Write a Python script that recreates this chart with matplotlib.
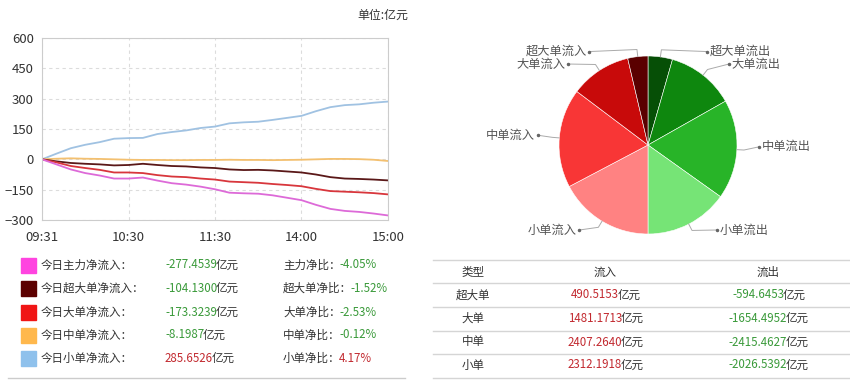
import matplotlib
matplotlib.use("Agg")
import matplotlib.pyplot as plt
from matplotlib.patches import Rectangle
import numpy as np

plt.rcParams['font.family'] = ['Noto Sans CJK SC', 'DejaVu Sans']

# =============================================================================
    # Data
# =============================================================================
time_labels = ['09:31', '10:30', '11:30', '14:00', '15:00']
minutes = list(range(0, 241, 10))   # trading minutes since 09:31, every 10 min

main_net = [0, -25, -50, -68, -80, -95, -95, -90, -105, -118, -125, -135, -148,
            -165, -168, -170, -178, -190, -202, -225, -245, -255, -260, -268, -277.45]
super_net = [0, -10, -18, -22, -25, -30, -28, -22, -28, -33, -35, -40, -43,
             -50, -53, -52, -55, -60, -65, -75, -88, -95, -97, -100, -104.13]
large_net = [0, -15, -33, -43, -52, -65, -65, -68, -78, -85, -88, -95, -100,
             -110, -113, -116, -122, -127, -133, -146, -157, -160, -163, -167, -173.32]
medium_net = [0, 3, 5, 3, 2, 0, -2, -3, -3, -4, -4, -3, -3,
              -2, -3, -3, -4, -3, -2, 0, 2, 2, 1, -2, -8.2]
small_net = [0, 28, 55, 72, 85, 102, 105, 106, 125, 135, 143, 155, 162,
             178, 183, 186, 195, 205, 215, 238, 258, 268, 272, 280, 285.65]

legend_names = ['今日主力净流入：', '今日超大单净流入：', '今日大单净流入：', '今日中单净流入：', '今日小单净流入：']
legend_values = ['-277.4539', '-104.1300', '-173.3239', '-8.1987', '285.6526']
ratio_names = ['主力净比：', '超大单净比：', '大单净比：', '中单净比：', '小单净比：']
ratio_values = ['-4.05%', '-1.52%', '-2.53%', '-0.12%', '4.17%']

types = ['超大单', '大单', '中单', '小单']
inflow = [490.5153, 1481.1713, 2407.2640, 2312.1918]
outflow = [-594.6453, -1654.4952, -2415.4627, -2026.5392]

# =============================================================================
    # Styles
# =============================================================================
line_colors = ['#dd6ad8', '#5a1818', '#d8363c', '#f3c070', '#a0c2e2']
square_colors = ['#ff44e0', '#5c0000', '#f01515', '#ffb84d', '#8fc1ec']
in_colors = ['#5a0000', '#c80a0a', '#f83636', '#ff8282']
out_colors = ['#064f06', '#0e870e', '#28b428', '#76e476']
green = '#3a9a3a'
red = '#c22a30'
dark = '#333333'

fig = plt.figure(figsize=(8.5, 3.84), dpi=100)

# -------- line chart --------
ax = fig.add_axes([42 / 850, 1 - 220 / 384, 346 / 850, 182 / 384])
series = [small_net, medium_net, super_net, large_net, main_net]
cols = [line_colors[4], line_colors[3], line_colors[1], line_colors[2], line_colors[0]]
for s, c in zip(series, cols):
    ax.plot(minutes, s, color=c, lw=1.3)
ax.set_xlim(0, 240)
ax.set_ylim(-300, 600)
ax.set_yticks(np.arange(-300, 601, 150))
ax.set_xticks([0, 60, 120, 180, 240])
ax.set_xticklabels(time_labels)
ax.grid(True, ls=(0, (3, 3)), color='#dcdcdc', lw=0.8)
for sp in ax.spines.values():
    sp.set_color('#cccccc')
ax.tick_params(length=0, labelsize=9.5, colors=dark, pad=6)
ax.tick_params(axis='x', pad=8)

# -------- pie --------
pax = fig.add_axes([(648 - 89) / 850, 1 - (145 + 89) / 384, 178 / 850, 178 / 384])
pie_vals = [-v for v in outflow] + inflow[::-1]
pie_cols = out_colors + in_colors[::-1]
pie_labels = [t + '流出' for t in types] + [t + '流入' for t in types[::-1]]
wedges, _ = pax.pie(pie_vals, colors=pie_cols, startangle=90, counterclock=False,
                    radius=1, wedgeprops=dict(edgecolor='white', linewidth=0.4))
pax.set_xlim(-1, 1)
pax.set_ylim(-1, 1)

label_pos = {'超大单流出': (0.66, 1.05), '大单流出': (0.91, 0.91), '中单流出': (1.25, -0.02),
             '小单流出': (0.77, -0.955), '小单流入': (-0.77, -0.955), '中单流入': (-1.24, 0.11),
             '大单流入': (-0.90, 0.91), '超大单流入': (-0.66, 1.05)}
for w, lab in zip(wedges, pie_labels):
    ang = np.deg2rad((w.theta1 + w.theta2) / 2)
    ex, ey = np.cos(ang), np.sin(ang)
    tx, ty = label_pos[lab]
    ha = 'left' if tx > 0 else 'right'
    pax.plot([ex, ex + 0.08 * ex, tx], [ey, ey + 0.08 * ey, ty], color='#aaaaaa', lw=0.7,
             clip_on=False)
    pax.plot([tx], [ty], marker='o', ms=1.5, color='#666666', clip_on=False)
    pax.text(tx + (0.03 if tx > 0 else -0.03), ty, lab, ha=ha, va='center', fontsize=8.8,
             color='#555555', clip_on=False)

# -------- overlay in pixel coords --------
ov = fig.add_axes([0, 0, 1, 1])
ov.set_xlim(0, 850)
ov.set_ylim(384, 0)
ov.axis('off')
renderer = fig.canvas.get_renderer()


def text_width(s, size):
    t = ov.text(0, 0, s, fontsize=size)
    w = t.get_window_extent(renderer).width
    t.remove()
    return w - 1.5


def pieces(x, y, parts, size, center=False):
    widths = [text_width(s, size) for s, _ in parts]
    if center:
        x = x - sum(widths) / 2
    for (s, c), w in zip(parts, widths):
        ov.text(x, y, s, fontsize=size, color=c, ha='left', va='center')
        x += w


ov.text(408, 15, '单位:亿元', fontsize=8.6, color=dark, ha='right', va='center')

row_y = [265, 288, 312, 335, 358]
for i, y in enumerate(row_y):
    ov.add_patch(Rectangle((21, y - 7.5), 15, 15, color=square_colors[i]))
    ov.text(41, y, legend_names[i], fontsize=8.3, color=dark, va='center')
    vcol = red if not legend_values[i].startswith('-') else green
    pieces(165, y, [(legend_values[i], vcol), ('亿元', dark)], 8.3)
    rcol = red if not ratio_values[i].startswith('-') else green
    pieces(283, y, [(ratio_names[i], dark), (ratio_values[i], rcol)], 8.3)
ov.plot([8, 405], [378, 378], color='#cccccc', lw=1)

# -------- table --------
col_x = [473, 605, 768]
for y in [260, 283, 307, 331, 354, 378]:
    ov.plot([433, 850], [y, y], color='#d5d5d5', lw=1)
head_y = 272
for x, h in zip(col_x, ['类型', '流入', '流出']):
    ov.text(x, head_y, h, fontsize=8.3, color=dark, ha='center', va='center')
tab_y = [295, 318, 342, 365]
for i, y in enumerate(tab_y):
    ov.text(col_x[0], y, types[i], fontsize=8.3, color=dark, ha='center', va='center')
    pieces(col_x[1], y, [(f'{inflow[i]:.4f}', red), ('亿元', dark)], 8.3, center=True)
    pieces(col_x[2], y, [(f'{outflow[i]:.4f}', green), ('亿元', dark)], 8.3, center=True)

fig.savefig('out.png', dpi=100)
